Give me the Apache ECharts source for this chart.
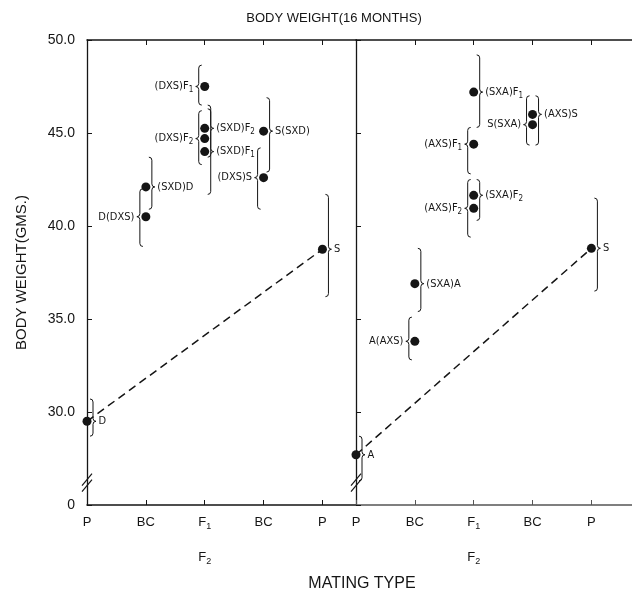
<!DOCTYPE html>
<html><head><meta charset="utf-8">
<script src="https://cdn.jsdelivr.net/npm/echarts@6/dist/echarts.min.js"></script>
<style>html,body{margin:0;padding:0;background:#fff}#c{width:632px;height:591px}</style>
</head><body><div id="c"></div>
<script>
// ---- data ----
const xCategories = ['P', 'BC', 'F_1\nF_2', 'BC', 'P'];
const yMin = 25;            // axis shown broken: bottom labelled "0"
const yMax = 50;
const yStep = 5;
const breakAt = 26.2;

// Left panel: D x S crosses
const leftNames = ['D', 'D(DXS)', '(SXD)D', '(DXS)F_1', '(SXD)F_2', '(DXS)F_2', '(SXD)F_1', 'S(SXD)', '(DXS)S', 'S'];
const leftX     = [0, 1, 1, 2, 2, 2, 2, 3, 3, 4];
const leftY     = [29.5, 40.5, 42.1, 47.5, 45.25, 44.7, 44.0, 45.1, 42.6, 38.75];
const leftSide  = ['right', 'left', 'right', 'left', 'right', 'left', 'right', 'right', 'left', 'right'];
const leftLow   = [28.7, 38.9, 40.9, 46.5, 43.7, 43.3, 41.7, 42.9, 40.9, 36.2];
const leftHigh  = [30.7, 42.0, 43.7, 48.65, 46.3, 46.2, 46.5, 46.9, 44.2, 41.7];

// Right panel: A x S crosses
const rightNames = ['A', 'A(AXS)', '(SXA)A', '(SXA)F_1', '(AXS)F_1', '(SXA)F_2', '(AXS)F_2', '(AXS)S', 'S(SXA)', 'S'];
const rightX     = [0, 1, 1, 2, 2, 2, 2, 3, 3, 4];
const rightY     = [27.7, 33.8, 36.9, 47.2, 44.4, 41.65, 40.95, 46.0, 45.45, 38.8];
const rightSide  = ['right', 'left', 'right', 'right', 'left', 'right', 'left', 'right', 'left', 'right'];
const rightLow   = [26.3, 32.8, 35.4, 45.3, 42.8, 40.3, 39.4, 44.35, 44.35, 36.5];
const rightHigh  = [28.7, 35.1, 38.8, 49.2, 45.3, 42.5, 42.5, 47.0, 47.0, 41.5];

// ---- helpers ----
const INK = '#151515';
const LABEL_FONT = '"DejaVu Sans Condensed", "Liberation Sans Narrow", "DejaVu Sans", sans-serif';
const AXIS_FONT = '"Liberation Sans", Arial, sans-serif';
const sub = s => s.replace(/_(\d)/g, '{s|$1}');

function pointData(names, xs, ys, sides) {
  return names.map((n, i) => ({
    value: [xs[i], ys[i]],
    name: n,
    label: { position: sides[i], formatter: sub(n) }
  }));
}
function braceData(xs, ys, lo, hi, sides) {
  return xs.map((x, i) => [x, ys[i], lo[i], hi[i], sides[i] === 'left' ? -1 : 1]);
}
function braceItem(params, api) {
  const x = api.value(0), y = api.value(1), lo = api.value(2), hi = api.value(3), s = api.value(4);
  const p = api.coord([x, y]), t = api.coord([x, hi]), b = api.coord([x, lo]);
  const bx = p[0] + s * 6, w = 3 * s, py = p[1];
  const d = `M${bx - w} ${t[1]} Q${bx} ${t[1]} ${bx} ${t[1] + 3} L${bx} ${py - 3} Q${bx} ${py} ${bx + w} ${py} ` +
            `Q${bx} ${py} ${bx} ${py + 3} L${bx} ${b[1] - 3} Q${bx} ${b[1]} ${bx - w} ${b[1]}`;
  return { type: 'path', shape: { pathData: d }, style: { stroke: INK, fill: null, lineWidth: 1 } };
}
function breakItem(params, api) {
  const p = api.coord([api.value(0), api.value(1)]);
  const seg = dy => ({ type: 'line', shape: { x1: p[0] - 5, y1: p[1] + 6 + dy, x2: p[0] + 5, y2: p[1] - 6 + dy },
                       style: { stroke: INK, lineWidth: 1.2 } });
  return { type: 'group', children: [seg(-3), seg(3)] };
}
const xLabelFmt = v => {
  const r = Math.round(v);
  return Math.abs(v - r) < 1e-6 && xCategories[r] !== undefined ? sub(xCategories[r]) : '';
};

function xAxes(gridIndex, max, bottomColor) {
  return [
    { type: 'value', gridIndex, min: 0, max, interval: 1, position: 'bottom',
      axisLine: { lineStyle: { color: bottomColor, width: 1.5 } },
      axisTick: { inside: true, length: 5, lineStyle: { color: bottomColor } },
      splitLine: { show: false },
      axisLabel: { formatter: xLabelFmt, margin: 0, color: INK, fontFamily: AXIS_FONT, fontSize: 13, lineHeight: 35,
                   showMaxLabel: false, rich: { s: { fontSize: 9, lineHeight: 35, padding: [8, 0, 0, 0], fontFamily: AXIS_FONT, color: INK } } } },
    { type: 'value', gridIndex, min: 0, max, interval: 1, position: 'top',
      axisLine: { lineStyle: { color: INK, width: 1.5 } },
      axisTick: { inside: true, length: 5, lineStyle: { color: INK } },
      splitLine: { show: false }, axisLabel: { show: false } }
  ];
}
function yAxis(gridIndex, showLabels) {
  return { type: 'value', gridIndex, min: yMin, max: yMax, interval: yStep,
    axisLine: { show: true, lineStyle: { color: INK, width: 1.3 } },
    axisTick: { show: true, inside: true, length: 5, lineStyle: { color: INK } },
    splitLine: { show: false },
    axisLabel: { show: showLabels, margin: 12, color: INK, fontFamily: AXIS_FONT, fontSize: 14,
                 formatter: v => v === yMin ? '0' : v.toFixed(1) },
    name: showLabels ? 'BODY WEIGHT(GMS.)' : '', nameLocation: 'middle', nameGap: 58, nameRotate: 90,
    nameTextStyle: { color: INK, fontFamily: AXIS_FONT, fontSize: 15 } };
}
const pointLabel = {
  show: true, distance: 7, color: INK, fontFamily: LABEL_FONT, fontSize: 11,
  rich: { s: { fontSize: 8, padding: [7, 0, 0, 0], fontFamily: LABEL_FONT, color: INK } }
};
function panelSeries(xi, yi, names, xs, ys, sides, lo, hi) {
  return [
    { type: 'custom', xAxisIndex: xi, yAxisIndex: yi, renderItem: braceItem, silent: true, z: 2,
      data: braceData(xs, ys, lo, hi, sides) },
    { type: 'line', xAxisIndex: xi, yAxisIndex: yi, symbol: 'none', z: 3,
      lineStyle: { color: INK, width: 1.5, type: [8, 5] },
      data: [[xs[0], ys[0]], [xs[xs.length - 1], ys[ys.length - 1]]] },
    { type: 'scatter', xAxisIndex: xi, yAxisIndex: yi, symbolSize: 9, z: 4,
      itemStyle: { color: INK, opacity: 1 }, label: pointLabel,
      data: pointData(names, xs, ys, sides) },
    { type: 'custom', xAxisIndex: xi, yAxisIndex: yi, renderItem: breakItem, silent: true, z: 5,
      data: [[0, breakAt]] }
  ];
}

const chart = echarts.init(document.getElementById('c'), null, { renderer: 'canvas' });
chart.setOption({
  backgroundColor: '#fff',
  animation: false,
  title: [
    { text: 'BODY WEIGHT(16 MONTHS)', left: 329, top: 7, textAlign: 'center',
      textStyle: { color: INK, fontFamily: AXIS_FONT, fontSize: 13, fontWeight: 'normal' } },
    { text: 'MATING TYPE', left: 357, top: 571, textAlign: 'center',
      textStyle: { color: INK, fontFamily: AXIS_FONT, fontSize: 16, fontWeight: 'normal' } }
  ],
  grid: [
    { left: 87, top: 40, width: 269, height: 465 },
    { left: 356, top: 40, width: 276, height: 465 }
  ],
  xAxis: [...xAxes(0, 4.57, INK), ...xAxes(1, 4.69, '#555')],
  yAxis: [yAxis(0, true), yAxis(1, false)],
  series: [
    ...panelSeries(0, 0, leftNames, leftX, leftY, leftSide, leftLow, leftHigh),
    ...panelSeries(2, 1, rightNames, rightX, rightY, rightSide, rightLow, rightHigh)
  ]
});
</script></body></html>
